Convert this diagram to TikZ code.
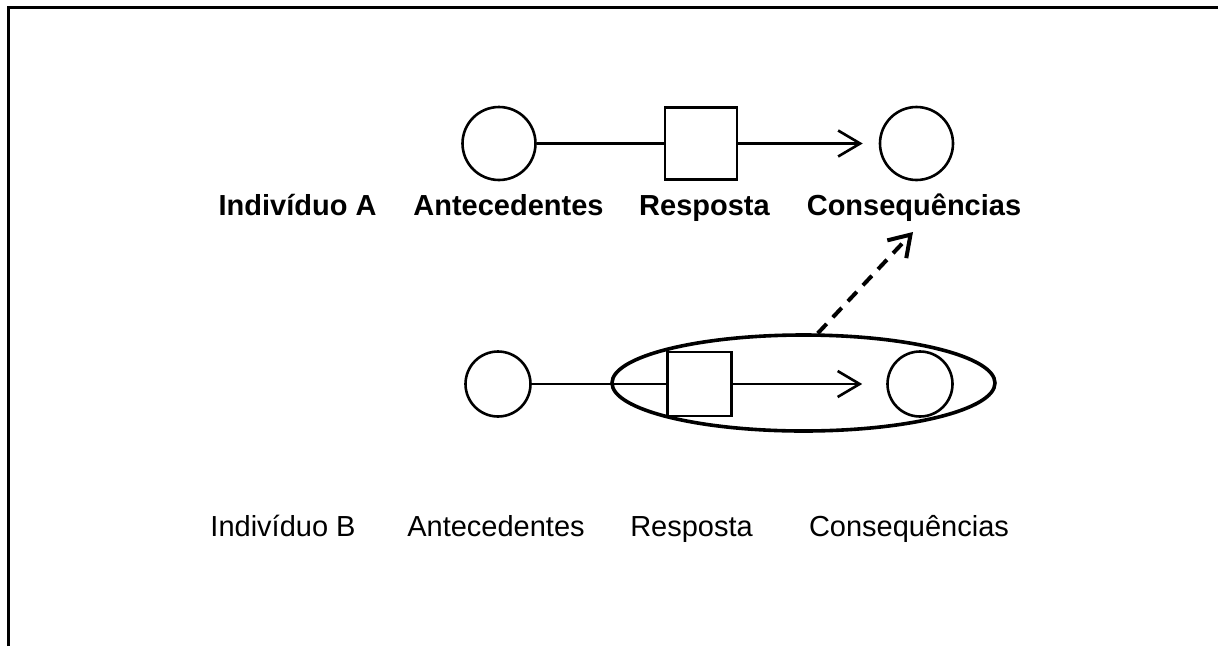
\documentclass[tikz,border=0pt]{standalone}
\usepackage{fontspec}
\setmainfont{Liberation Sans}
\usetikzlibrary{arrows.meta,shapes.geometric}
\tikzset{
  circ/.style={circle,draw,line width=2.6pt,inner sep=0pt,minimum size=#1},
  sq/.style={rectangle,draw,line width=2.6pt,inner sep=0pt,minimum width=#1,minimum height=#1},
  conn/.style={line width=2.6pt},
  arr/.style={conn,-{Straight Barb[length=22pt,width=26pt,line width=2.6pt]}},
  lblA/.style={font=\fontsize{29}{29}\selectfont\bfseries,anchor=base,inner sep=0pt},
  lblB/.style={font=\fontsize{29}{29}\selectfont,anchor=base,inner sep=0pt},
}
\begin{document}
\begin{tikzpicture}[x=1pt,y=-1pt]
\useasboundingbox (0,0) rectangle (1218,646);
\draw[line width=3pt] (8.5,646) -- (8.5,7.5) -- (1218,7.5);
% row A
\node[circ=73pt] (a1) at (499,143.5) {};
\node[sq=72pt] (a2) at (701,143.5) {};
\node[circ=73pt] (a3) at (916.5,143.5) {};
\draw[conn] (a1) -- (a2);
\draw[arr] (a2) -- ([xshift=-16pt]a3.west);
\node[lblA] (la0) at (297.5,215) {Indivíduo A};
\node[lblA] (la1) at (508.5,215) {Antecedentes};
\node[lblA] (la2) at (704.5,215) {Resposta};
\node[lblA] (la3) at (914,215) {Consequências};
% row B
\node[circ=65pt] (b1) at (498,384) {};
\node[sq=64pt] (b2) at (699.5,384) {};
\node[circ=65pt] (b3) at (920,384) {};
\draw[conn] (b1) -- (b2);
\draw[arr] (b2) -- ([xshift=-24pt]b3.west);
\node[ellipse,draw,line width=3.6pt,inner sep=0pt,minimum width=383pt,minimum height=96pt] (ell) at (803.5,383) {};
\coordinate (tip) at (913,232);
\draw[line width=4pt,dash pattern=on 13pt off 9pt,-{Straight Barb[length=20pt,width=26pt,line width=4pt]}] (ell.74) -- (tip);
\node[lblB] (lb0) at (283,536) {Indivíduo B};
\node[lblB] (lb1) at (496,536) {Antecedentes};
\node[lblB] (lb2) at (691.5,536) {Resposta};
\node[lblB] (lb3) at (909,536) {Consequências};
\end{tikzpicture}
\end{document}
